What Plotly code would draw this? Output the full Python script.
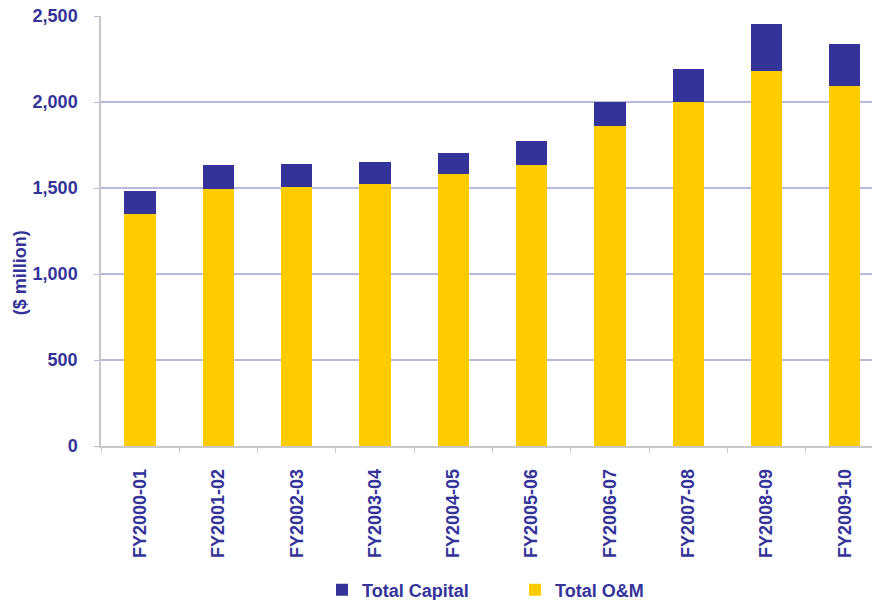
import plotly.graph_objects as go

# Annual spending by fiscal year ($ million)
years = ["FY2000-01", "FY2001-02", "FY2002-03", "FY2003-04", "FY2004-05",
         "FY2005-06", "FY2006-07", "FY2007-08", "FY2008-09", "FY2009-10"]
om_spend = [1350, 1496, 1506, 1521, 1580, 1632, 1860, 1998, 2182, 2091]
capital_spend = [131, 135, 134, 128, 125, 141, 140, 192, 271, 248]
y_ticks = [0, 500, 1000, 1500, 2000, 2500]

NAVY = "#333399"
GOLD = "#FFCC00"
GRID = "#b9b9e0"
AXIS = "#c8c8c8"
FONT = "Liberation Sans, Arial, sans-serif"

fig = go.Figure()
fig.add_trace(go.Bar(x=years, y=om_spend, name="Total O&M",
                     marker=dict(color=GOLD, line=dict(width=0))))
fig.add_trace(go.Bar(x=years, y=capital_spend, name="Total Capital",
                     marker=dict(color=NAVY, line=dict(width=0))))

fig.update_layout(
    width=872, height=600,
    margin=dict(l=101, r=0, t=16, b=154, pad=0, autoexpand=False),
    paper_bgcolor="white", plot_bgcolor="white",
    barmode="stack", bargap=0.6,
    font=dict(family=FONT, size=18, color=NAVY, weight="bold"),
    showlegend=True,
    legend=dict(orientation="h", traceorder="reversed",
                xref="container", x=322 / 872, xanchor="left",
                yref="container", y=10 / 600, yanchor="middle",
                entrywidth=148, entrywidthmode="pixels",
                font=dict(family=FONT, size=18, color=NAVY, weight="bold"),
                itemclick=False, itemdoubleclick=False),
    xaxis=dict(
        type="category", range=[-0.5, 9.347],
        showline=True, linecolor=AXIS, linewidth=1.5,
        ticks="outside", tickson="boundaries", ticklen=5, tickcolor=AXIS,
        tickangle=-90, ticklabelstandoff=14,
        tickfont=dict(family=FONT, size=18, color=NAVY, weight="bold"),
        showgrid=False, zeroline=False,
    ),
    yaxis=dict(
        range=[0, 2500], tickvals=y_ticks, tickformat=",",
        showline=True, linecolor=AXIS, linewidth=1.5,
        ticks="outside", ticklen=5, tickcolor=GRID,
        ticklabelstandoff=13,
        tickfont=dict(family=FONT, size=18, color=NAVY, weight="bold"),
        showgrid=True, gridcolor=GRID, gridwidth=1.5,
        zeroline=False,
    ),
    annotations=[dict(
        text="($ million)", textangle=-90,
        xref="paper", yref="paper", x=-0.105, y=0.402,
        xanchor="center", yanchor="middle", showarrow=False,
        font=dict(family=FONT, size=18, color=NAVY, weight="bold"),
    )],
)

fig.write_html("out.html")
